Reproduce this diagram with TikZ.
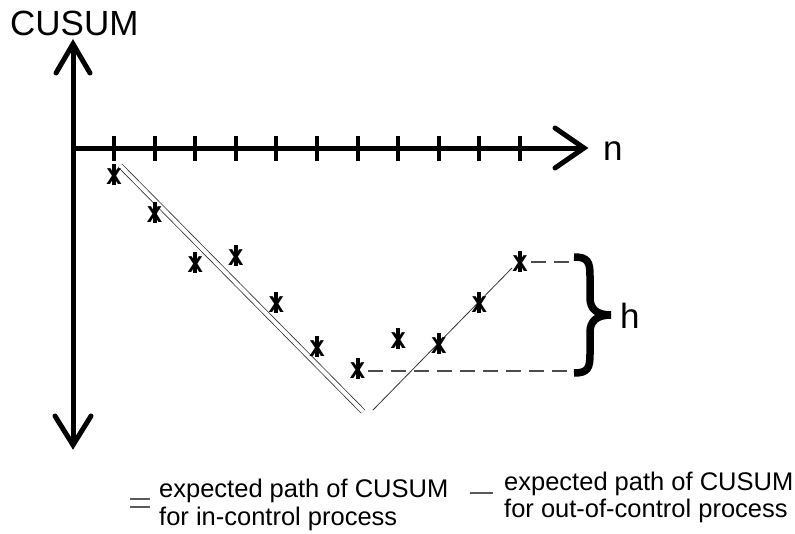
\documentclass[tikz,border=0pt]{standalone}
\usepackage{fontspec}
\setmainfont{Liberation Sans}
\begin{document}
\begin{tikzpicture}[x=1pt,y=-1pt,
  axis/.style={line width=5pt},
  arm/.style={line width=5pt, line join=miter, line cap=round},
  tick/.style={line width=4pt},
  markX/.style={inner sep=0pt, font=\fontsize{23}{26}\selectfont\bfseries},
  bigtxt/.style={inner sep=0pt, anchor=base west, font=\fontsize{35}{40}\selectfont},
  legtxt/.style={inner sep=0pt, anchor=base west, font=\fontsize{25.5}{28}\selectfont},
  path/.style={line width=0.8pt, draw=black!80},
  dashline/.style={line width=1.5pt, draw=black!70, dash pattern=on 15pt off 8pt},
  legsym/.style={line width=1.5pt, draw=black!65}]
\useasboundingbox (0,0) rectangle (795,533);
% axes
\coordinate (top) at (73,44);
\coordinate (bot) at (73,445);
\coordinate (origin) at (73,148);
\coordinate (right) at (584,148);
\draw[axis] (bot) -- (top);
\draw[axis] (origin) -- (right);
\draw[arm] (56,73) -- (top) -- (90,73);
\draw[arm] (55,416) -- (bot) -- (91,416);
\draw[arm] (555,128) -- (right) -- (555,168);
% ticks
\foreach \i in {0,...,10}{
  \draw[tick] ({114+40.6*\i},136) -- ({114+40.6*\i},161);
}
% labels
\node[bigtxt] (cusum) at (10,35) {CUSUM};
\node[bigtxt] (nlab) at (603,160) {n};
\node[bigtxt] (hlab) at (620,328) {h};
% expected paths
\coordinate (a1) at (120,165.5);
\coordinate (a2) at (363,411.5);
\draw[path, double=white, double distance=4pt] (a1) -- (a2);
\coordinate (b1) at (373,410);
\coordinate (b2) at (512,268);
\draw[path] (b1) -- (b2);
% markers
\foreach \x/\y [count=\i] in {114/177, 154.6/215, 195.2/265, 235.8/258, 276.4/305, 317/349, 357.6/371, 398.2/341, 438.8/346, 479.4/305, 520/264}{
  \fill (\x-2,\y-13) rectangle (\x+2,\y+8);
  \node[markX] (m\i) at (\x,\y) {X};
}
% dashed limits
\coordinate (d1) at (573,262);
\coordinate (d2) at (573,371);
\draw[dashline] (m11.east) ++(3,-2) -- (d1);
\draw[dashline] (m7.east) ++(3,0) -- (d2);
% brace
\draw[line width=7.5pt] (574,257) .. controls (588,257) and (590,262) .. (590,276) -- (590,298)
  .. controls (590,309) and (597,315) .. (611,315)
  .. controls (597,315) and (590,321) .. (590,332) -- (590,354)
  .. controls (590,368) and (588,373) .. (574,373);
% legend
\draw[legsym] (130,499) -- (150,499);
\draw[legsym] (130,507) -- (150,507);
\draw[legsym] (470,493) -- (493,493);
\node[legtxt] (l1a) at (159,497) {expected path of CUSUM};
\node[legtxt] (l1b) at (159,525) {for in-control process};
\node[legtxt] (l2a) at (504,490) {expected path of CUSUM};
\node[legtxt] (l2b) at (504,517) {for out-of-control process};
\end{tikzpicture}
\end{document}
